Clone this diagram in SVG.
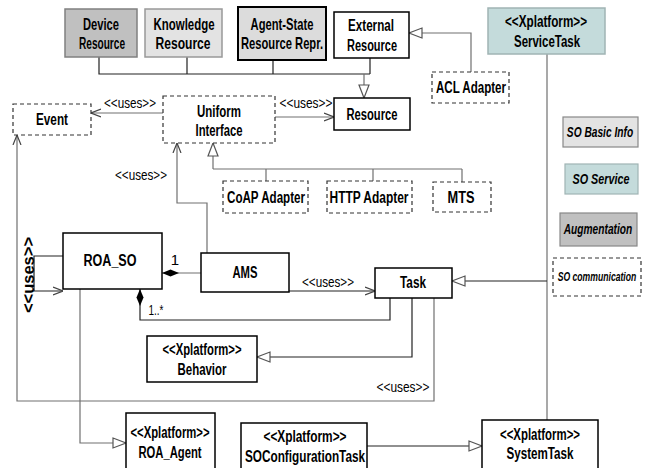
<svg xmlns="http://www.w3.org/2000/svg" width="655" height="468" viewBox="0 0 655 468">
<style>
text{font-family:"Liberation Sans",Arial,sans-serif;text-anchor:middle;fill:#000}
.n{font-size:16px;font-weight:bold}
.s{font-size:15px}
.it{font-size:15px;font-style:italic;font-weight:bold}
.box{fill:#fff;stroke:#000;stroke-width:1.5}
.dash{fill:#fff;stroke:#333;stroke-width:1.2;stroke-dasharray:4 3}
.c{fill:none;stroke:#707070;stroke-width:1.2}
.k{fill:none;stroke:#222;stroke-width:1.2}
</style>
<defs>
<marker id="open" viewBox="0 0 10 10" refX="10" refY="5" markerWidth="10" markerHeight="10" markerUnits="userSpaceOnUse" orient="auto">
<path d="M0,1 L10,5 L0,9" fill="none" stroke="#444" stroke-width="1.2"/>
</marker>
<marker id="tri" viewBox="0 0 15 12" refX="14" refY="6" markerWidth="15" markerHeight="12" markerUnits="userSpaceOnUse" orient="auto">
<path d="M1,1 L14,6 L1,11 Z" fill="#fff" stroke="#555" stroke-width="1.2"/>
</marker>
<marker id="dia" viewBox="0 0 17 8" refX="0" refY="4" markerWidth="17" markerHeight="8" markerUnits="userSpaceOnUse" orient="auto">
<path d="M0,4 L8.5,0.5 L17,4 L8.5,7.5 Z" fill="#000"/>
</marker>
</defs>

<g id="connectors">
<path class="k" d="M99,57 V74 H370 M187,57 V74 M273,60 V74 M370,58 V74"/>
<path class="c" d="M364,74 V98" marker-end="url(#tri)"/>
<path class="c" d="M471,72 V33 H409" marker-end="url(#tri)"/>
<path class="c" d="M163,113 H91" marker-end="url(#open)"/>
<path class="c" d="M275,117 H334" marker-end="url(#open)"/>
<path class="c" d="M213,169 V143" marker-end="url(#tri)"/>
<path class="c" d="M213,169 H462 M266,169 V181 M373,169 V181 M462,169 V182"/>
<path class="c" d="M207,253 V203 H177 V143" marker-end="url(#open)"/>
<path class="k" d="M63,256 H34 V291 H63" marker-end="url(#open)"/>
<path class="c" d="M162,273 H201" marker-start="url(#dia)"/>
<path class="k" d="M289,291 H375" marker-end="url(#open)"/>
<path class="c" d="M547,54 V420"/>
<path class="k" d="M547,281 H452" marker-end="url(#tri)"/>
<path class="k" d="M140,289 V320 H390 V298" marker-start="url(#dia)"/>
<path class="k" d="M412,298 V357 H257" marker-end="url(#tri)"/>
<path class="c" d="M434,298 V401 H17 V135" marker-end="url(#open)"/>
<path class="c" d="M80,289 V443 H126" marker-end="url(#tri)"/>
<path class="k" d="M367,446 H482" marker-end="url(#tri)"/>
<text class="s" x="130" y="108" textLength="52" lengthAdjust="spacingAndGlyphs">&lt;&lt;uses&gt;&gt;</text>
<text class="s" x="306" y="108" textLength="53" lengthAdjust="spacingAndGlyphs">&lt;&lt;uses&gt;&gt;</text>
<text class="s" x="141" y="180" textLength="52" lengthAdjust="spacingAndGlyphs">&lt;&lt;uses&gt;&gt;</text>
<text x="29" y="275" transform="rotate(-90 29 275)" dy="5" style="font-size:16px;font-weight:bold" textLength="76" lengthAdjust="spacingAndGlyphs">&lt;&lt;uses&gt;&gt;</text>
<text class="s" x="175" y="265">1</text>
<text class="s" x="156" y="315" textLength="15" lengthAdjust="spacingAndGlyphs">1..*</text>
<text class="s" x="328" y="287" textLength="52" lengthAdjust="spacingAndGlyphs">&lt;&lt;uses&gt;&gt;</text>
<text class="s" x="403" y="392" textLength="53" lengthAdjust="spacingAndGlyphs">&lt;&lt;uses&gt;&gt;</text>
</g>

<g id="device-resource">
<rect x="65" y="9" width="72" height="48" fill="#c0c0c0" stroke="#808080" stroke-width="1.5"/>
<text class="n" x="101" y="30" textLength="36" lengthAdjust="spacingAndGlyphs">Device</text>
<text class="n" x="102" y="49" textLength="46" lengthAdjust="spacingAndGlyphs">Resource</text>
</g>
<g id="knowledge-resource">
<rect x="145" y="9" width="77" height="48" fill="#e3e3e3" stroke="#999" stroke-width="1.5"/>
<text class="n" x="184" y="30" textLength="61" lengthAdjust="spacingAndGlyphs">Knowledge</text>
<text class="n" x="183" y="49" textLength="55" lengthAdjust="spacingAndGlyphs">Resource</text>
</g>
<g id="agent-state">
<rect x="238" y="7" width="88" height="53" fill="#dcdcdc" stroke="#000" stroke-width="2"/>
<text class="n" transform="translate(282,30) scale(0.70,1)" x="0" y="0">Agent-State</text>
<text class="n" transform="translate(282,49) scale(0.70,1)" x="0" y="0">Resource Repr.</text>
</g>
<g id="external-resource">
<rect x="334" y="12" width="75" height="46" class="box"/>
<text class="n" x="371" y="31" textLength="46" lengthAdjust="spacingAndGlyphs">External</text>
<text class="n" x="372" y="51" textLength="50" lengthAdjust="spacingAndGlyphs">Resource</text>
</g>
<g id="service-task">
<rect x="488" y="8" width="117" height="46" fill="#c4dbdb" stroke="#a0b4b4" stroke-width="1.5"/>
<text class="n" x="546" y="27" textLength="82" lengthAdjust="spacingAndGlyphs">&lt;&lt;Xplatform&gt;&gt;</text>
<text class="n" x="547" y="47" textLength="66" lengthAdjust="spacingAndGlyphs">ServiceTask</text>
</g>
<g id="acl-adapter">
<rect x="432" y="72" width="77" height="31" class="dash"/>
<text class="n" x="471" y="93" textLength="70" lengthAdjust="spacingAndGlyphs">ACL Adapter</text>
</g>
<g id="resource">
<rect x="334" y="98" width="76" height="32" class="box"/>
<text class="n" x="372" y="120" textLength="51" lengthAdjust="spacingAndGlyphs">Resource</text>
</g>
<g id="event">
<rect x="13" y="104" width="78" height="31" class="dash"/>
<text class="n" x="52" y="125" textLength="32" lengthAdjust="spacingAndGlyphs">Event</text>
</g>
<g id="uniform-interface">
<rect x="163" y="96" width="112" height="47" class="dash"/>
<text class="n" x="219" y="117" textLength="44" lengthAdjust="spacingAndGlyphs">Uniform</text>
<text class="n" x="219" y="136" textLength="47" lengthAdjust="spacingAndGlyphs">Interface</text>
</g>
<g id="coap-adapter">
<rect x="223" y="181" width="85" height="32" class="dash"/>
<text class="n" x="266" y="203" textLength="78" lengthAdjust="spacingAndGlyphs">CoAP Adapter</text>
</g>
<g id="http-adapter">
<rect x="327" y="181" width="85" height="32" class="dash"/>
<text class="n" x="369" y="203" textLength="79" lengthAdjust="spacingAndGlyphs">HTTP Adapter</text>
</g>
<g id="mts">
<rect x="433" y="182" width="58" height="30" class="dash"/>
<text class="n" x="461" y="203" textLength="27" lengthAdjust="spacingAndGlyphs">MTS</text>
</g>
<g id="so-basic-info">
<rect x="563" y="117" width="75" height="30" fill="#e3e3e3" stroke="#888" stroke-width="1.2"/>
<text class="it" transform="translate(600,137) scale(0.68,1)" x="0" y="0">SO Basic Info</text>
</g>
<g id="so-service">
<rect x="565" y="164" width="73" height="30" fill="#c4dbdb" stroke="#a0b4b4" stroke-width="1.2"/>
<text class="it" transform="translate(601,184) scale(0.72,1)" x="0" y="0">SO Service</text>
</g>
<g id="augmentation">
<rect x="560" y="213" width="77" height="33" fill="#c0c0c0" stroke="#888" stroke-width="1.2"/>
<text class="it" transform="translate(598,234) scale(0.68,1)" x="0" y="0">Augmentation</text>
</g>
<g id="so-communication">
<rect x="553" y="258" width="88" height="38" class="dash"/>
<text class="it" transform="translate(597,281) scale(0.72,1)" x="0" y="0" style="font-size:12px">SO communication</text>
</g>
<g id="roa-so">
<rect x="63" y="233" width="99" height="56" class="box"/>
<text class="n" x="110" y="266" textLength="53" lengthAdjust="spacingAndGlyphs">ROA_SO</text>
</g>
<g id="ams">
<rect x="201" y="253" width="88" height="39" class="box"/>
<text class="n" x="245" y="278" textLength="25" lengthAdjust="spacingAndGlyphs">AMS</text>
</g>
<g id="task">
<rect x="375" y="268" width="77" height="30" class="box"/>
<text class="n" x="413" y="288" textLength="26" lengthAdjust="spacingAndGlyphs">Task</text>
</g>
<g id="behavior">
<rect x="147" y="336" width="110" height="46" class="box"/>
<text class="n" x="202" y="355" textLength="79" lengthAdjust="spacingAndGlyphs">&lt;&lt;Xplatform&gt;&gt;</text>
<text class="n" x="202" y="375" textLength="49" lengthAdjust="spacingAndGlyphs">Behavior</text>
</g>
<g id="roa-agent">
<rect x="126" y="413" width="89" height="60" class="box"/>
<text class="n" x="170" y="438" textLength="79" lengthAdjust="spacingAndGlyphs">&lt;&lt;Xplatform&gt;&gt;</text>
<text class="n" x="170" y="458" textLength="63" lengthAdjust="spacingAndGlyphs">ROA_Agent</text>
</g>
<g id="so-configuration-task">
<rect x="241" y="423" width="126" height="50" class="box"/>
<text class="n" x="305" y="442" textLength="83" lengthAdjust="spacingAndGlyphs">&lt;&lt;Xplatform&gt;&gt;</text>
<text class="n" x="305" y="462" textLength="120" lengthAdjust="spacingAndGlyphs">SOConfigurationTask</text>
</g>
<g id="system-task">
<rect x="482" y="420" width="116" height="53" class="box"/>
<text class="n" x="540" y="440" textLength="80" lengthAdjust="spacingAndGlyphs">&lt;&lt;Xplatform&gt;&gt;</text>
<text class="n" x="540" y="459" textLength="67" lengthAdjust="spacingAndGlyphs">SystemTask</text>
</g>
</svg>
